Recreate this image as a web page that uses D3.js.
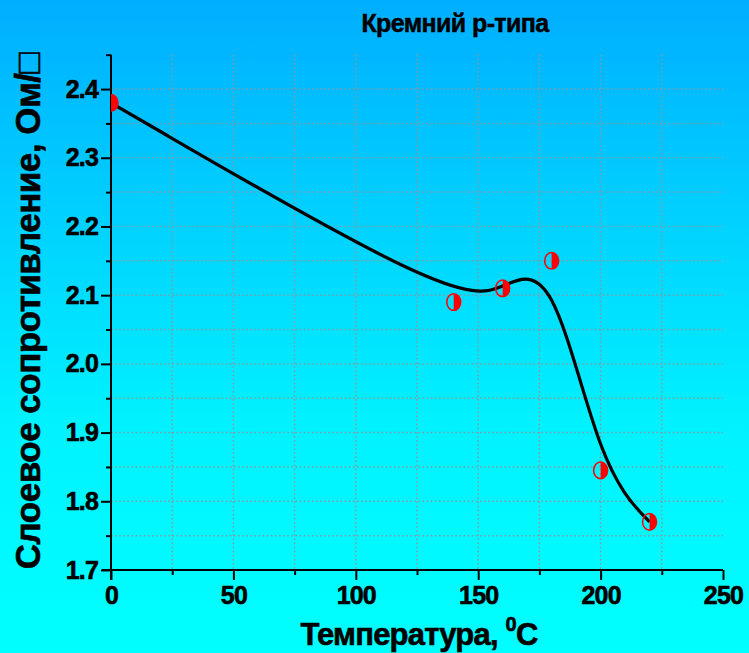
<!DOCTYPE html>
<html>
<head>
<meta charset="utf-8">
<script src="https://cdn.jsdelivr.net/npm/d3@7"></script>
<style>
  html, body { margin: 0; padding: 0; }
  svg { display: block; }
  text { font-family: "Liberation Sans", Arial, sans-serif; font-weight: bold; fill: #000; }
</style>
</head>
<body>
<script>
// ---- data ----
const temperature = [0, 140, 160, 180, 200, 220];
const resistance  = [2.38, 2.09, 2.11, 2.15, 1.845, 1.77];
const xMajorTicks = [0, 50, 100, 150, 200, 250];
const yMajorTicks = [1.7, 1.8, 1.9, 2.0, 2.1, 2.2, 2.3, 2.4];
const titleText = "Кремний p-типа";
const xTitleText = "Температура, ";
const yTitleText = "Слоевое сопротивление, Ом/\u25A1";

const W = 749, H = 653;
const svg = d3.select("body").append("svg").attr("width", W).attr("height", H);

// background gradient
const defs = svg.append("defs");
const grad = defs.append("linearGradient").attr("id", "bg").attr("x1", 0).attr("y1", 0).attr("x2", 0).attr("y2", 1);
grad.append("stop").attr("offset", "0%").attr("stop-color", "#00aeff");
grad.append("stop").attr("offset", "65%").attr("stop-color", "#00f2ff");
grad.append("stop").attr("offset", "100%").attr("stop-color", "#00ffff");
svg.append("rect").attr("width", W).attr("height", H).attr("fill", "url(#bg)");

const x = d3.scaleLinear().domain([0, 250]).range([111, 723]);
const y = d3.scaleLinear().domain([1.7, 2.45]).range([570, 54.7]);

defs.append("clipPath").attr("id", "plotclip").append("rect")
  .attr("x", x(0)).attr("y", y(2.45)).attr("width", x(250) - x(0)).attr("height", y(1.7) - y(2.45));

// grid
const xGrid = d3.range(25, 250, 25);
const yGrid = d3.range(1.75, 2.4001, 0.05);
const grid = svg.append("g").attr("stroke", "#8a97a0").attr("stroke-width", 1.5).attr("stroke-dasharray", "1.5,2.6");
grid.selectAll(".gx").data(xGrid).join("line")
  .attr("x1", d => x(d)).attr("x2", d => x(d)).attr("y1", y(2.45)).attr("y2", y(1.7));
grid.selectAll(".gy").data(yGrid).join("line")
  .attr("x1", x(0)).attr("x2", x(250)).attr("y1", d => y(d)).attr("y2", d => y(d));

function styleTickText(sel) {
  sel.attr("font-size", 25).attr("font-family", "Liberation Sans, Arial").attr("font-weight", "bold")
    .attr("letter-spacing", "-0.8px").attr("stroke", "#000").attr("stroke-width", 0.6);
}

// axes
const xAxis = d3.axisBottom(x).tickValues(xMajorTicks).tickSize(10).tickPadding(6).tickFormat(d3.format("d"));
const gx = svg.append("g").attr("transform", `translate(0,${y(1.7)})`).call(xAxis);
gx.select(".domain").attr("stroke-width", 2).attr("d", `M${x(0) - 9},0H${x(250)}`);
gx.selectAll(".tick line").attr("stroke-width", 2);
gx.selectAll(".tick text").call(styleTickText);
const gxm = svg.append("g").attr("transform", `translate(0,${y(1.7)})`)
  .call(d3.axisBottom(x).tickValues(d3.range(25, 250, 50)).tickSize(5).tickFormat(""));
gxm.select(".domain").remove();
gxm.selectAll(".tick line").attr("stroke-width", 2);

const yAxis = d3.axisLeft(y).tickValues(yMajorTicks).tickSize(10).tickPadding(3).tickFormat(d3.format(".1f"));
const gy = svg.append("g").attr("transform", `translate(${x(0)},0)`).call(yAxis);
gy.select(".domain").attr("stroke-width", 2).attr("d", `M0,${y(1.7) + 10}V${y(2.45)}`);
gy.selectAll(".tick line").attr("stroke-width", 2);
gy.selectAll(".tick text").call(styleTickText);
const gym = svg.append("g").attr("transform", `translate(${x(0)},0)`)
  .call(d3.axisLeft(y).tickValues(d3.range(1.75, 2.4501, 0.1)).tickSize(5).tickFormat(""));
gym.select(".domain").remove();
gym.selectAll(".tick line").attr("stroke-width", 2);

// data
const pts = temperature.map((t, i) => [t, resistance[i]]);
const plot = svg.append("g").attr("clip-path", "url(#plotclip)");

plot.append("path").datum(pts)
  .attr("fill", "none").attr("stroke", "#000").attr("stroke-width", 3.2)
  .attr("d", d3.line().x(d => x(d[0])).y(d => y(d[1])).curve(d3.curveBasis));

const rx = 7, ry = 8.3;
const mk = plot.selectAll(".mk").data(pts).join("g")
  .attr("transform", d => `translate(${x(d[0])},${y(d[1])})`);
mk.append("path")
  .attr("d", `M0,${-ry} A${rx},${ry} 0 0 1 0,${ry} Z`)
  .attr("fill", "#ff0000");
mk.append("ellipse").attr("rx", rx).attr("ry", ry)
  .attr("fill", "none").attr("stroke", "#ff0000").attr("stroke-width", 1.5);

// titles
svg.append("text").attr("x", 455).attr("y", 32).attr("text-anchor", "middle")
  .attr("font-size", 25).attr("letter-spacing", "-0.6px").attr("stroke", "#000").attr("stroke-width", 0.5)
  .text(titleText);

const xt = svg.append("text").attr("x", 419).attr("y", 645).attr("text-anchor", "middle")
  .attr("font-size", 31).attr("letter-spacing", "-0.8px").attr("stroke", "#000").attr("stroke-width", 0.6);
xt.append("tspan").text(xTitleText);
xt.append("tspan").attr("font-size", 20).attr("dy", -14).text("0");
xt.append("tspan").attr("dy", 14).text("C");

svg.append("text").attr("transform", `translate(40,311) rotate(-90)`).attr("text-anchor", "middle")
  .attr("font-size", 35).attr("letter-spacing", "-0.5px").attr("stroke", "#000").attr("stroke-width", 0.6)
  .text(yTitleText);
</script>
</body>
</html>
